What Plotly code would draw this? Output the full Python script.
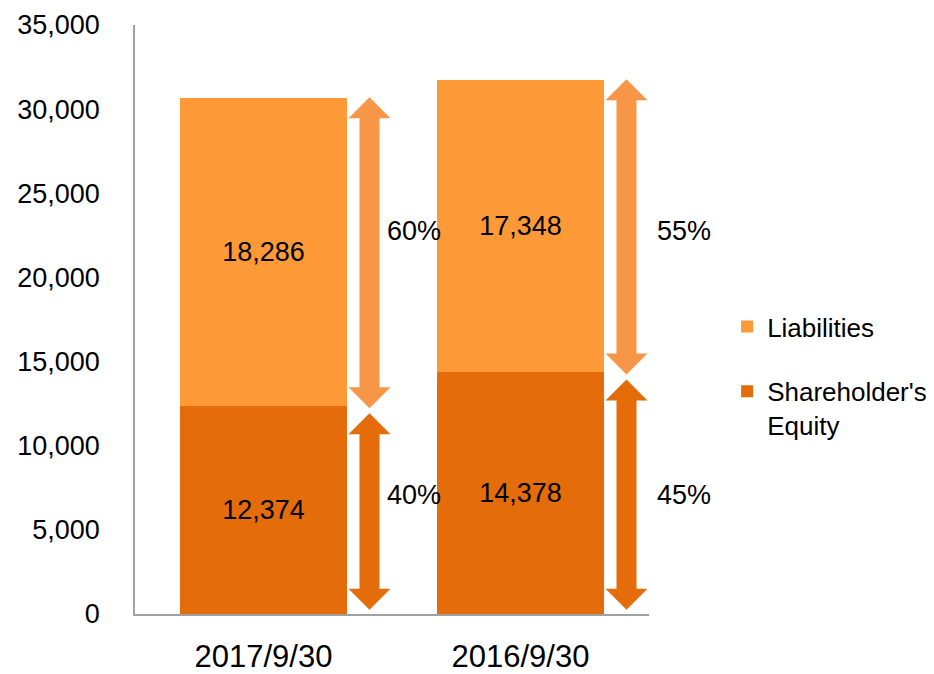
import plotly.graph_objects as go

# ---- data ----
dates = ["2017/9/30", "2016/9/30"]
equity = [12374, 14378]
liabilities = [18286, 17348]
y_ticks = [0, 5000, 10000, 15000, 20000, 25000, 30000, 35000]

# ---- style ----
FONT = "Liberation Sans, Arial, sans-serif"
C_LIAB = "#FD9A37"
C_EQ = "#E46C0A"
C_ARROW_LIGHT = "#F79646"
C_ARROW_DARK = "#E46C0A"

# page body has an 8px margin, so the figure is drawn 8px smaller
W, H = 926, 666
M_L, M_R, M_T, M_B = 127, 285, 17, 60
PLOT_H = H - M_T - M_B
Y_MAX = 35000
UNITS_PER_PX = Y_MAX / PLOT_H
FS = 27

fig = go.Figure()
fig.add_trace(go.Bar(
    name="Shareholder's<br>Equity", x=dates, y=equity, marker_color=C_EQ,
    marker_line_width=0, texttemplate="%{y:,}", textposition="inside",
    insidetextanchor="middle", textfont=dict(color="black", size=FS, family=FONT),
    textangle=0, legendgroup="eq", legendrank=2,
))
fig.add_trace(go.Bar(
    name="Liabilities", x=dates, y=liabilities, marker_color=C_LIAB,
    marker_line_width=0, texttemplate="%{y:,}", textposition="inside",
    insidetextanchor="middle", textfont=dict(color="black", size=FS, family=FONT),
    textangle=0, legendgroup="li", legendrank=1,
))

# ---- double-headed arrows and percentage labels ----
arrow_dx = 106          # px right of bar center
shaft_hw, head_hw, head_px = 10, 21, 21
head = head_px * UNITS_PER_PX
label_dx = [121, 134]
label_y_light, label_y_dark = 22750, 7100


def arrow_path(lo, hi):
    c = arrow_dx
    pts = [
        (c - shaft_hw, lo + head), (c - head_hw, lo + head), (c, lo),
        (c + head_hw, lo + head), (c + shaft_hw, lo + head),
        (c + shaft_hw, hi - head), (c + head_hw, hi - head), (c, hi),
        (c - head_hw, hi - head), (c - shaft_hw, hi - head),
    ]
    return "M " + " L ".join(f"{x},{y}" for x, y in pts) + " Z"


shapes, annos = [], []
for i, (e, l) in enumerate(zip(equity, liabilities)):
    total = e + l
    shapes.append(dict(type="path", xref="x", yref="y", xsizemode="pixel", xanchor=i,
                       path=arrow_path(e - 150, total + 50), fillcolor=C_ARROW_LIGHT,
                       line=dict(width=0)))
    shapes.append(dict(type="path", xref="x", yref="y", xsizemode="pixel", xanchor=i,
                       path=arrow_path(250, e - 450), fillcolor=C_ARROW_DARK,
                       line=dict(width=0)))
    annos.append(dict(x=i, y=label_y_light, xref="x", yref="y", xshift=label_dx[i],
                      xanchor="left", text=f"{round(l / total * 100)}%", showarrow=False,
                      font=dict(size=FS, color="black", family=FONT)))
    annos.append(dict(x=i, y=label_y_dark, xref="x", yref="y", xshift=label_dx[i],
                      xanchor="left", text=f"{round(e / total * 100)}%", showarrow=False,
                      font=dict(size=FS, color="black", family=FONT)))

fig.update_layout(
    barmode="stack",
    bargap=0.354,
    width=W, height=H,
    margin=dict(l=M_L, r=M_R, t=M_T, b=M_B, autoexpand=False),
    paper_bgcolor="white", plot_bgcolor="white",
    font=dict(family=FONT, size=FS, color="black"),
    shapes=shapes, annotations=annos,
    showlegend=True,
    legend=dict(x=1.152, y=0.528, xanchor="left", yanchor="top",
                traceorder="grouped", tracegroupgap=28, valign="top",
                font=dict(size=FS - 1, family=FONT), itemwidth=30),
    xaxis=dict(type="category", showline=True, linecolor="#A0A0A0", linewidth=1.5,
               showgrid=False, ticks="", tickfont=dict(size=31),
               ticklabelstandoff=14, range=[-0.5, 1.5]),
    yaxis=dict(range=[0, Y_MAX], tickvals=y_ticks, tickformat=",", showline=True,
               linecolor="#A0A0A0", linewidth=1.5, showgrid=False, zeroline=False,
               ticks="", tickfont=dict(size=FS), ticklabelstandoff=28),
)

fig.write_html("out.html")
